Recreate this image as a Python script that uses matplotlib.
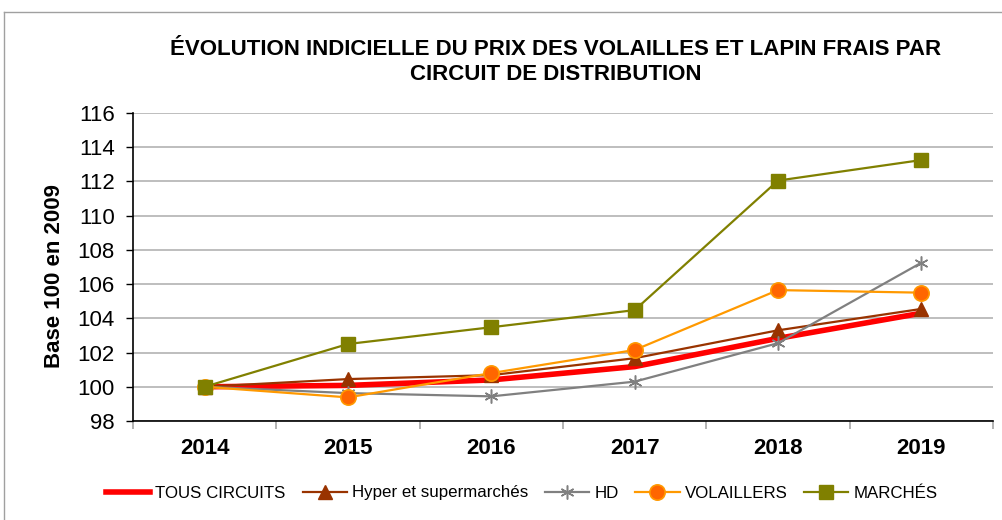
from matplotlib import pyplot as plt
from matplotlib.lines import Line2D
import numpy as np

plt.rcParams['font.family'] = ['Liberation Sans', 'DejaVu Sans']

years = ['2014', '2015', '2016', '2017', '2018', '2019']
tous_circuits = [100.0, 100.08, 100.4, 101.18, 102.83, 104.3]
hyper_super = [100.0, 100.45, 100.68, 101.67, 103.3, 104.55]
hd = [100.0, 99.63, 99.44, 100.3, 102.55, 107.25]
volaillers = [100.0, 99.38, 100.8, 102.15, 105.65, 105.5]
marches = [100.0, 102.5, 103.48, 104.48, 112.05, 113.25]

title = "ÉVOLUTION INDICIELLE DU PRIX DES VOLAILLES ET LAPIN FRAIS PAR\nCIRCUIT DE DISTRIBUTION"

fig = plt.figure(figsize=(10.03, 5.2), dpi=100)
ax = fig.add_axes([133 / 1003, 1 - 421 / 520, 860 / 1003, 308 / 520])

x = np.arange(len(years))

ax.plot(x, tous_circuits, color='#FF0000', lw=4, label='TOUS CIRCUITS', zorder=3)
ax.plot(x, hyper_super, color='#993300', lw=1.6, marker='^', ms=10,
        mfc='#993300', mec='#993300', label='Hyper et supermarchés', zorder=4)
ax.plot(x, hd, color='#808080', lw=1.6, marker=(6, 2, 0), ms=10,
        mec='#808080', mew=1.1, label='HD', zorder=4)
ax.plot(x, volaillers, color='#FF9900', lw=1.6, marker='o', ms=11,
        mfc='#FF6600', mec='#FF9900', mew=1.2, label='VOLAILLERS', zorder=5)
ax.plot(x, marches, color='#808000', lw=1.6, marker='s', ms=10,
        mfc='#808000', mec='#808000', label='MARCHÉS', zorder=6)

ax.set_xlim(-0.5, len(years) - 0.5)
ax.set_ylim(98, 116)
ax.set_yticks(np.arange(98, 117, 2))
ax.set_xticks(x)
ax.set_xticklabels(years, fontsize=16, fontweight='bold')
ax.set_xticks(np.arange(-0.5, len(years)), minor=True)
ax.tick_params(axis='x', which='major', length=0, pad=12)
ax.tick_params(axis='x', which='minor', length=6, color='#A6A6A6', width=1.2)
ax.tick_params(axis='y', length=5, width=1, labelsize=16, pad=8)

ax.grid(axis='y', color='#B3B3B3', lw=1.2)
ax.set_axisbelow(True)
for side in ['top', 'right']:
    ax.spines[side].set_visible(False)
ax.spines['left'].set_linewidth(1.2)
ax.spines['bottom'].set_linewidth(1.2)

ax.set_ylabel('Base 100 en 2009', fontsize=16, fontweight='bold')
ax.yaxis.set_label_coords(-0.079, 0.47)

fig.text(556 / 1003, 1 - 62 / 520, title, ha='center', va='center',
         fontsize=16, fontweight='bold', linespacing=1.2)

fig.legend(loc='center', bbox_to_anchor=(522 / 1003, 1 - 493 / 520), ncol=5,
           frameon=False, fontsize=12.2, handlelength=2.6, handletextpad=0.3,
           columnspacing=1.0)

# outer frame of the chart area (left and top edges only are visible)
fig.add_artist(Line2D([4 / 1003, 4 / 1003], [0, 1 - 12 / 520],
                      transform=fig.transFigure, color='#A0A0A0', lw=1))
fig.add_artist(Line2D([4 / 1003, 1], [1 - 12 / 520, 1 - 12 / 520],
                      transform=fig.transFigure, color='#A0A0A0', lw=1))

plt.savefig('out.png', dpi=100)
